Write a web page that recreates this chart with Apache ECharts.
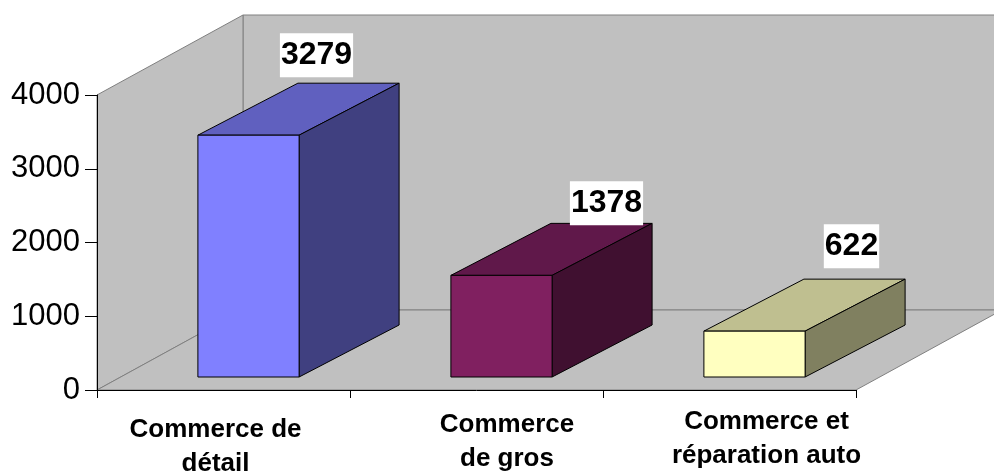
<!DOCTYPE html>
<html>
<head>
<meta charset="utf-8">
<title>Commerce</title>
<style>
html, body { margin: 0; padding: 0; background: #fff; }
#chart { width: 994px; height: 471px; }
</style>
<script src="https://cdn.jsdelivr.net/npm/echarts@6/dist/echarts.min.js"></script>
</head>
<body>
<div id="chart"></div>
<script>
const categories = ['Commerce de\ndétail', 'Commerce\nde gros', 'Commerce et\nréparation auto'];
const values = [3279, 1378, 622];
const yTicks = [0, 1000, 2000, 3000, 4000];

// couleurs des barres : face, dessus, côté
const faceColors = ['#8080ff', '#802060', '#ffffc0'];
const topColors = ['#6060bf', '#60184a', '#bfbf90'];
const sideColors = ['#404080', '#401030', '#808060'];

// decalage de chaque etiquette par rapport au coin avant de la barre
const labelShift = [[68, -80], [105, -72], [97, -85]];
// decalage des textes de l'axe x [haut, droite, bas, gauche]
const catPadding = [[15, 16, 0, 0], [10, 0, 0, 61], [7, 0, 0, 74]];

const font = '"Liberation Sans", Arial, sans-serif';
const wallDepth = [146, -80];
const barOffset = [25, -13];
const barDepth = [100, -52];

const chart = echarts.init(document.getElementById('chart'));

function poly(points, fill, stroke) {
	return {
		type: 'polygon',
		shape: { points: points },
		style: { fill: fill, stroke: stroke, lineWidth: 1 }
	};
}

function renderWalls(params, api) {
	const maxY = yTicks[yTicks.length - 1];
	const o = api.coord([0, 0]);
	const t = api.coord([0, maxY]);
	const band = api.size([1, 0])[0];
	const left = o[0] - band / 2;
	const right = left + band * categories.length;
	const base = o[1];
	const top = t[1];
	const dx = wallDepth[0];
	const dy = wallDepth[1];
	return {
		type: 'group',
		children: [
			poly([[left + dx, top + dy], [right + dx, top + dy], [right + dx, base + dy], [left + dx, base + dy]], '#c0c0c0', '#808080'),
			poly([[left, top], [left + dx, top + dy], [left + dx, base + dy], [left, base]], '#c0c0c0', '#808080'),
			poly([[left, base], [left + dx, base + dy], [right + dx, base + dy], [right, base]], '#c0c0c0', '#808080')
		]
	};
}

function renderBar(params, api) {
	const i = api.value(0);
	const val = api.value(1);
	const band = api.size([1, 0])[0];
	const w = band * 0.4;
	const p0 = api.coord([i, 0]);
	const p1 = api.coord([i, val]);
	const x0 = p0[0] - w / 2 + barOffset[0];
	const x1 = x0 + w;
	const yb = p0[1] + barOffset[1];
	const yt = p1[1] + barOffset[1];
	const dx = barDepth[0];
	const dy = barDepth[1];
	return {
		type: 'group',
		children: [
			poly([[x0, yt], [x1, yt], [x1 + dx, yt + dy], [x0 + dx, yt + dy]], topColors[i], '#000'),
			poly([[x1, yt], [x1 + dx, yt + dy], [x1 + dx, yb + dy], [x1, yb]], sideColors[i], '#000'),
			poly([[x0, yt], [x1, yt], [x1, yb], [x0, yb]], faceColors[i], '#000'),
			{
				type: 'text',
				x: (x0 + x1) / 2 + labelShift[i][0],
				y: yt + labelShift[i][1],
				style: {
					text: String(val),
					fontFamily: font,
					fontWeight: 'bold',
					fontSize: 32,
					fill: '#000',
					align: 'center',
					verticalAlign: 'middle',
					backgroundColor: '#fff',
					padding: [6, 1, 6, 1]
				}
			}
		]
	};
}

const option = {
	animation: false,
	backgroundColor: '#fff',
	grid: { left: 97, right: 138, top: 95, bottom: 81, outerBoundsMode: 'none' },
	xAxis: {
		type: 'category',
		z: 5,
		data: categories.map(function (name, i) {
			return { value: name, textStyle: { padding: catPadding[i] } };
		}),
		axisLine: { lineStyle: { color: '#000', width: 1 } },
		axisTick: { show: true, length: 8, lineStyle: { color: '#000' } },
		axisLabel: {
			interval: 0,
			margin: 8,
			color: '#000',
			fontFamily: font,
			fontWeight: 'bold',
			fontSize: 26,
			lineHeight: 34
		}
	},
	yAxis: {
		type: 'value',
		z: 5,
		min: yTicks[0],
		max: yTicks[yTicks.length - 1],
		interval: 1000,
		splitLine: { show: false },
		axisLine: { show: true, lineStyle: { color: '#000', width: 1 } },
		axisTick: { show: true, length: 12, lineStyle: { color: '#000' } },
		axisLabel: {
			margin: 17,
			color: '#000',
			fontFamily: font,
			fontSize: 31,
			formatter: function (v) { return String(v); }
		}
	},
	series: [
		{
			type: 'custom',
			z: 1,
			silent: true,
			renderItem: renderWalls,
			data: [[0, 0]]
		},
		{
			type: 'custom',
			z: 2,
			silent: true,
			renderItem: renderBar,
			encode: { x: 0, y: 1 },
			data: values.map(function (v, i) { return [i, v]; })
		}
	]
};

chart.setOption(option);
</script>
</body>
</html>
